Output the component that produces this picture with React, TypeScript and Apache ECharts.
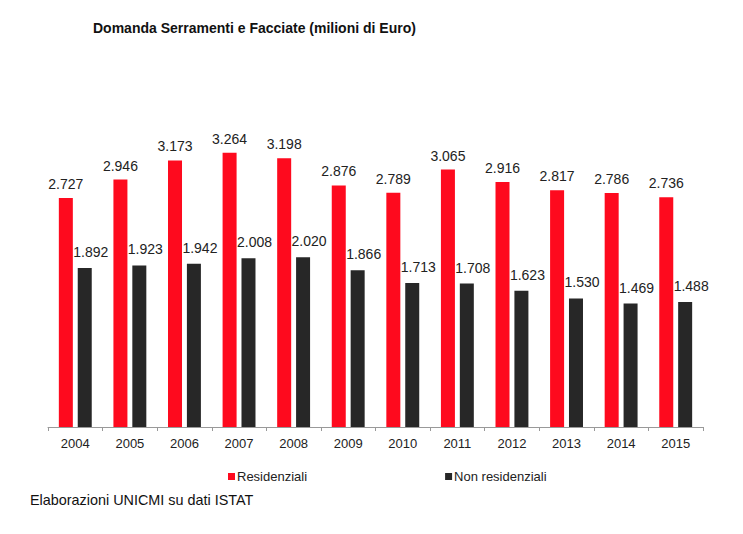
import React, { useEffect, useRef } from "react";
import * as echarts from "echarts";

const years = ["2004", "2005", "2006", "2007", "2008", "2009", "2010", "2011", "2012", "2013", "2014", "2015"];
const residenziali = [2727, 2946, 3173, 3264, 3198, 2876, 2789, 3065, 2916, 2817, 2786, 2736];
const nonResidenziali = [1892, 1923, 1942, 2008, 2020, 1866, 1713, 1708, 1623, 1530, 1469, 1488];
const seriesNames = ["Residenziali", "Non residenziali"];
const titleText = "Domanda Serramenti e Facciate (milioni di Euro)";
const footerText = "Elaborazioni UNICMI su dati ISTAT";

const fmt = (v: number) => {
  const s = String(Math.round(v));
  return s.replace(/\B(?=(\d{3})+(?!\d))/g, ".");
};

export default function App() {
  const ref = useRef<HTMLDivElement>(null);
  useEffect(() => {
    document.body.style.margin = "0";
    const chart = echarts.init(ref.current!, null, { renderer: "svg" });
    const font = "Liberation Sans, Arial, sans-serif";
    chart.setOption({
      animation: false,
      backgroundColor: "#ffffff",
      textStyle: { fontFamily: font },
      title: {
        text: titleText,
        left: 88,
        top: 16,
        textStyle: { fontSize: 14, fontWeight: "bold", color: "#111", fontFamily: font },
      },
      graphic: [
        {
          type: "text",
          left: 30,
          top: 493,
          style: { text: footerText, fontSize: 14.4, fill: "#111", fontFamily: font },
        },
      ],
      legend: {
        left: 223,
        top: 465,
        itemWidth: 7,
        itemHeight: 7,
        itemGap: 138,
        icon: "rect",
        textStyle: { fontSize: 13, color: "#222", padding: [0, 0, 0, -3], fontFamily: font },
        data: seriesNames,
      },
      grid: { left: 48, right: 40, top: 133, bottom: 107, containLabel: false },
      xAxis: {
        type: "category",
        data: years,
        axisLine: { lineStyle: { color: "#999", width: 1 } },
        axisTick: { show: true, length: 4, lineStyle: { color: "#999" } },
        axisLabel: { fontSize: 13, color: "#222", margin: 10, fontFamily: font },
      },
      yAxis: {
        type: "value",
        min: 0,
        max: 3500,
        show: false,
        splitLine: { show: false },
      },
      series: [
        {
          name: seriesNames[0],
          type: "bar",
          data: residenziali,
          barWidth: 14,
          barGap: "35%",
          itemStyle: { color: "#fe0a1e" },
          label: {
            show: true,
            position: "top",
            distance: 7,
            fontSize: 14,
            color: "#222",
            fontFamily: font,
            formatter: (p: any) => fmt(p.value),
          },
        },
        {
          name: seriesNames[1],
          type: "bar",
          data: nonResidenziali,
          barWidth: 14,
          itemStyle: { color: "#272727" },
          label: {
            show: true,
            position: "top",
            distance: 9,
            offset: [6, 0],
            fontSize: 14,
            color: "#222",
            fontFamily: font,
            formatter: (p: any) => fmt(p.value),
          },
        },
      ],
    });
    return () => chart.dispose();
  }, []);
  return <div ref={ref} style={{ position: "absolute", left: 0, top: 0, width: 743, height: 534 }} />;
}
